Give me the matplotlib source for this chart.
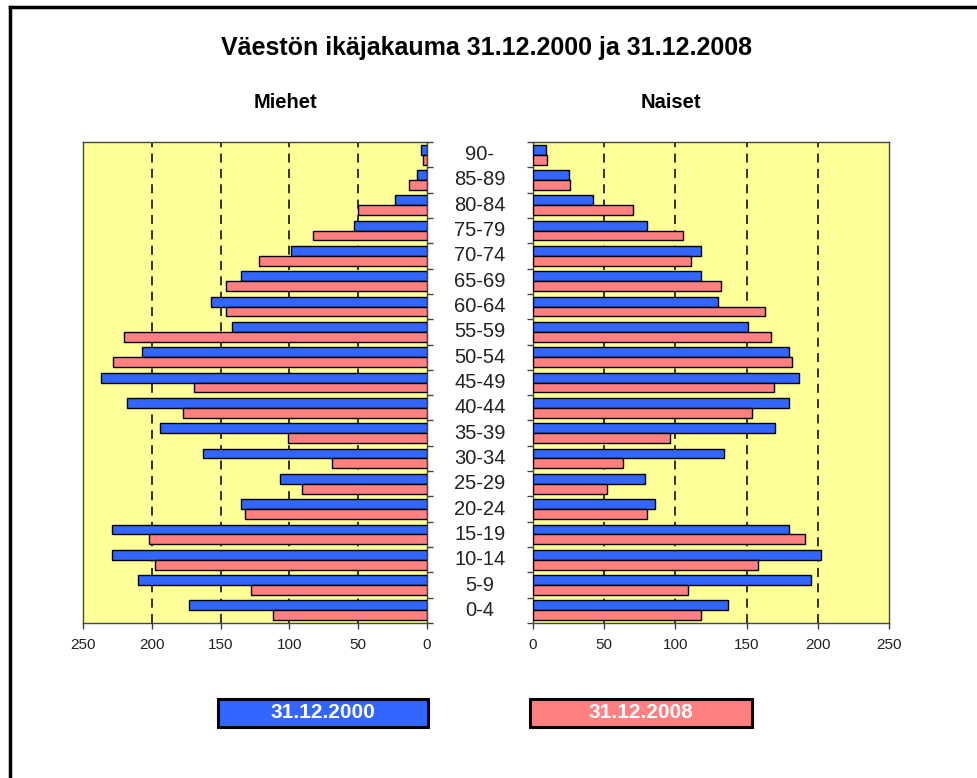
import numpy as np
import matplotlib
matplotlib.use("Agg")
import matplotlib.pyplot as plt
from matplotlib.patches import Rectangle
from matplotlib.lines import Line2D

plt.rcParams['font.family'] = ['Liberation Sans', 'DejaVu Sans']

# ikäryhmät alhaalta ylös
ages = ['0-4', '5-9', '10-14', '15-19', '20-24', '25-29', '30-34', '35-39',
        '40-44', '45-49', '50-54', '55-59', '60-64', '65-69', '70-74',
        '75-79', '80-84', '85-89', '90-']

men_2000 = [173, 210, 229, 229, 135, 107, 163, 194, 218, 237, 207, 142, 157, 135, 99, 53, 23, 7, 4]
men_2008 = [112, 128, 198, 202, 132, 91, 69, 101, 177, 169, 228, 220, 146, 146, 122, 83, 50, 13, 3]
women_2000 = [137, 195, 202, 180, 86, 79, 134, 170, 180, 187, 180, 151, 130, 118, 118, 80, 42, 25, 9]
women_2008 = [118, 109, 158, 191, 80, 52, 63, 96, 154, 169, 182, 167, 163, 132, 111, 105, 70, 26, 10]

labels = ['31.12.2000', '31.12.2008']
colors = ['#3366FF', '#FF8080']
bg = '#FFFF99'

W, H = 978, 778
fig = plt.figure(figsize=(W / 100, H / 100), dpi=100)

def fx(px):
    return px / W

def fy(py):
    return 1 - py / H

ax_l = fig.add_axes([fx(83), fy(623), fx(427 - 83), (623 - 142) / H])
ax_r = fig.add_axes([fx(533), fy(623), fx(889 - 533), (623 - 142) / H])

y = np.arange(len(ages))
h = 0.39

for ax, d2000, d2008 in [(ax_l, men_2000, men_2008), (ax_r, women_2000, women_2008)]:
    ax.set_facecolor(bg)
    ax.barh(y + h / 2, d2000, height=h, color=colors[0], edgecolor='black', linewidth=1, zorder=3)
    ax.barh(y - h / 2, d2008, height=h, color=colors[1], edgecolor='black', linewidth=1, zorder=3)
    ax.set_ylim(-0.5, len(ages) - 0.5)
    ax.set_xticks([0, 50, 100, 150, 200, 250])
    ax.set_yticks(np.arange(len(ages) + 1) - 0.5)
    ax.set_yticklabels([])
    for g in [50, 100, 150, 200]:
        ax.axvline(g, color='#222222', linestyle=(0, (5, 3.5)), linewidth=1.3, zorder=2)
    for s in ax.spines.values():
        s.set_color('#444444')
        s.set_linewidth(1)
    ax.tick_params(axis='x', direction='out', length=4, width=1, colors='#444444',
                   labelcolor='#222222', labelsize=11, pad=7)
    ax.tick_params(axis='y', direction='out', length=4, width=1, colors='#444444')

ax_l.set_xlim(250, 0)
ax_l.yaxis.tick_right()
ax_r.set_xlim(0, 250)
ax_r.yaxis.tick_left()

# ikäryhmien nimet keskelle
for i, a in enumerate(ages):
    ax_r.text(-0.149, i, a, transform=ax_r.get_yaxis_transform(),
              ha='center', va='center', fontsize=14.5, color='#222222')

fig.text(fx(487), fy(48), 'Väestön ikäjakauma 31.12.2000 ja 31.12.2008',
         ha='center', va='center', fontsize=18, fontweight='bold')
fig.text(fx(285), fy(103), 'Miehet', ha='center', va='center', fontsize=14.5, fontweight='bold')
fig.text(fx(671), fy(103), 'Naiset', ha='center', va='center', fontsize=14.5, fontweight='bold')

# selitelaatikot
for (x0, x1), lab, c in zip([(218, 428), (530, 752)], labels, colors):
    fig.patches.append(Rectangle((fx(x0), fy(727)), fx(x1 - x0), (727 - 699) / H,
                                 transform=fig.transFigure, facecolor=c,
                                 edgecolor='black', linewidth=2.2))
    fig.text(fx((x0 + x1) / 2), fy(713), lab, ha='center', va='center',
             fontsize=15, fontweight='bold', color='white')

# kehys
fig.lines.append(Line2D([fx(10), fx(10)], [fy(7), 0], transform=fig.transFigure,
                        color='black', linewidth=2.5))
fig.lines.append(Line2D([fx(10), 1], [fy(7), fy(7)], transform=fig.transFigure,
                        color='black', linewidth=2.5))

fig.savefig('out.png', dpi=100)
